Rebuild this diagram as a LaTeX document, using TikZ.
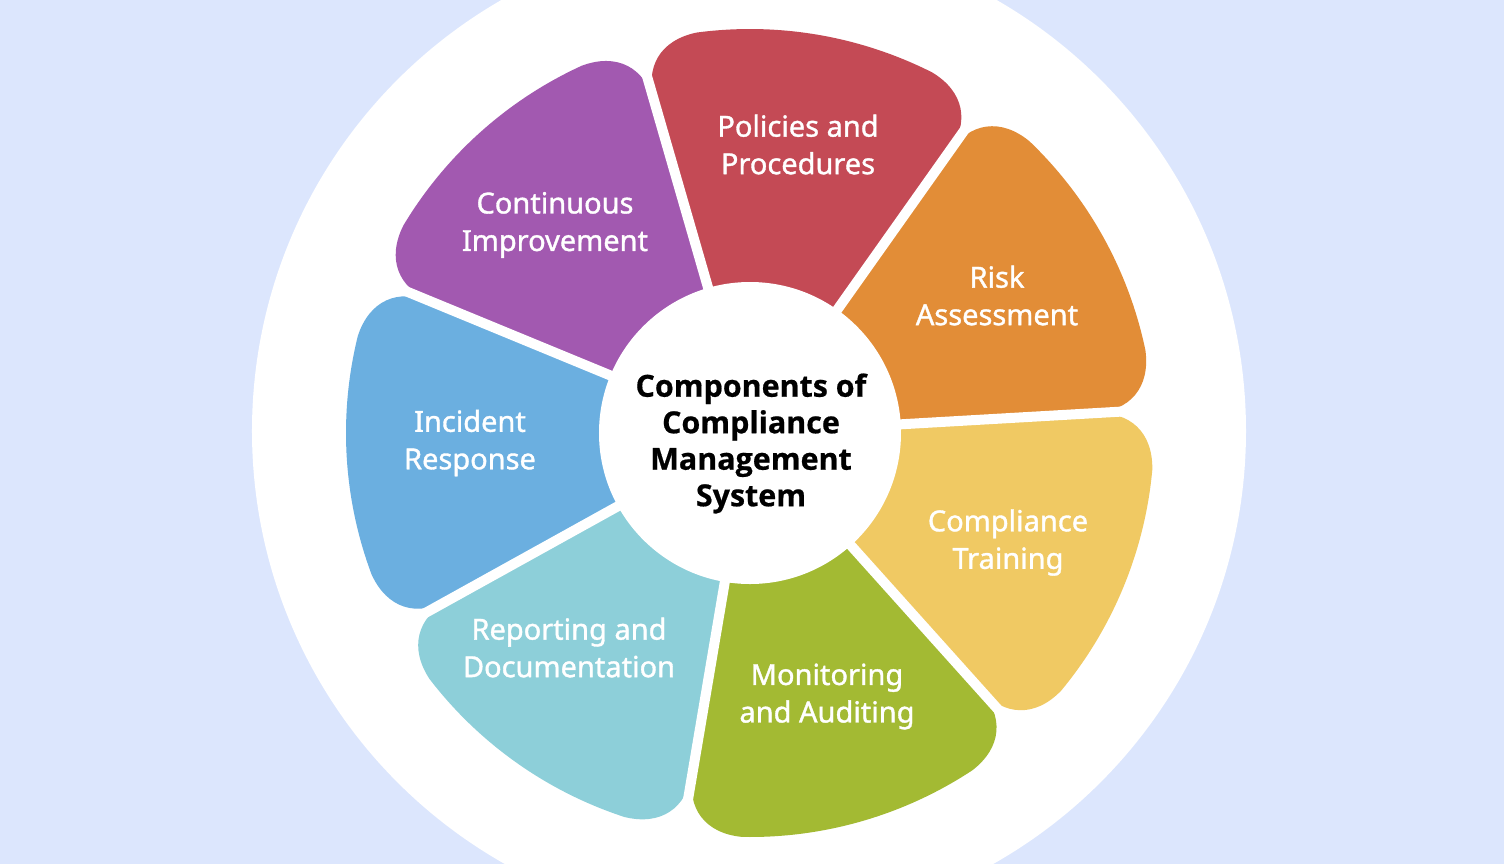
\documentclass[tikz,border=0pt]{standalone}
\usepackage{fontspec}
\usetikzlibrary{calc}
\setmainfont{Noto Sans}
\newfontfamily\petalfont{Noto Sans}[FakeBold=1.2]
\newfontfamily\centerfont{Open Sans}[BoldFeatures={FakeBold=0.6}]
\definecolor{bgblue}{HTML}{DCE6FD}
\definecolor{cred}{HTML}{C44A55}
\definecolor{corange}{HTML}{E28D37}
\definecolor{cyellow}{HTML}{F0C963}
\definecolor{cgreen}{HTML}{A3BA33}
\definecolor{cteal}{HTML}{8DCFD9}
\definecolor{cblue}{HTML}{6BAFE0}
\definecolor{cpurple}{HTML}{A259B0}
\newcommand\petalshape[3]{%
  \fill[#3] (0,0) -- ({#1}:344)
    .. controls ($({#1}:344)!0.62!({#1}:404)$) and ($({#1+8.5}:404)!0.62!({#1}:404)$) .. ({#1+8.5}:404)
    arc[start angle={#1+8.5}, end angle={#2-8.5}, radius=404]
    .. controls ($({#2-8.5}:404)!0.62!({#2}:404)$) and ($({#2}:344)!0.62!({#2}:404)$) .. ({#2}:344) -- cycle;}
\tikzset{
  petallabel/.style={text=white, align=center, font={\petalfont\fontsize{14.5pt}{18.75pt}\selectfont}},
  centerlabel/.style={text=black, align=center, font={\centerfont\bfseries\fontsize{15.2pt}{18.25pt}\selectfont}},
  gapline/.style={white, line width=5pt}
}
\begin{document}
\begin{tikzpicture}[x=0.5pt,y=0.5pt]
\useasboundingbox (-750,-431) rectangle (754,433);
\fill[bgblue] (-750,-431) rectangle (754,433);
\fill[white] (-1,2) circle[radius=497];
\petalshape{3.3}{54.7}{corange}
\petalshape{54.7}{106.1}{cred}
\petalshape{106.1}{157.6}{cpurple}
\petalshape{157.6}{209.0}{cblue}
\petalshape{209.0}{260.4}{cteal}
\petalshape{260.4}{311.9}{cgreen}
\petalshape{311.9}{363.3}{cyellow}
\foreach \b in {3.3,54.7,106.1,157.6,209.0,260.4,311.9}
  \draw[gapline] (0,0) -- (\b:430);
\fill[white] (0,0) circle[radius=151];
\node[centerlabel] (center) at (1,-10.5) {Components of\\Compliance\\Management\\System};
\node[petallabel] (policies) at (48,288.5) {Policies and\\Procedures};
\node[petallabel] (risk) at (247,137.5) {Risk\\Assessment};
\node[petallabel] (training) at (258,-109.5) {Compliance\\Training};
\node[petallabel] (monitoring) at (77,-263.5) {Monitoring\\and Auditing};
\node[petallabel] (reporting) at (-181,-214.5) {Reporting and\\Documentation};
\node[petallabel] (incident) at (-280,-10) {Incident\\Response};
\node[petallabel] (continuous) at (-195,208) {Continuous\\Improvement};
\end{tikzpicture}
\end{document}
